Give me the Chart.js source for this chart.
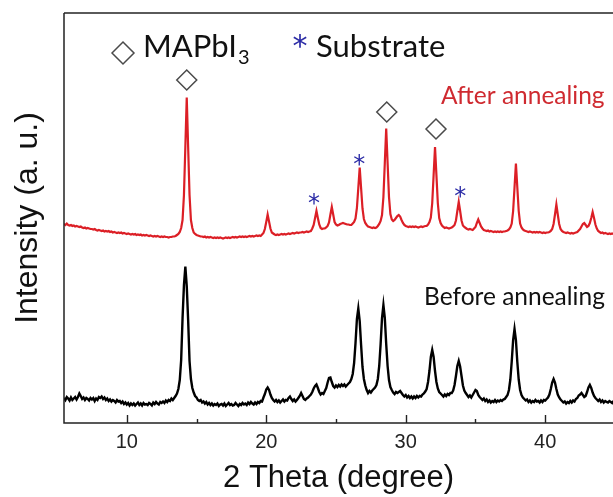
<!DOCTYPE html>
<html>
<head>
<meta charset="utf-8">
<title>XRD - MAPbI3 film</title>
<script src="https://cdn.jsdelivr.net/npm/chart.js"></script>
<style>
  body { margin: 0; background: #fff; }
  canvas { display: block; }
</style>
</head>
<body>
<canvas id="xrdChart" width="613" height="497"></canvas>
<script>
// 2 theta grid, one row per degree
const twoTheta = [
  5.5, 5.6, 5.7, 5.8, 5.9, 6.0, 6.1, 6.2, 6.3, 6.4,
  6.5, 6.6, 6.7, 6.8, 6.9, 7.0, 7.1, 7.2, 7.3, 7.4,
  7.5, 7.6, 7.7, 7.8, 7.9, 8.0, 8.1, 8.2, 8.3, 8.4,
  8.5, 8.6, 8.7, 8.8, 8.9, 9.0, 9.1, 9.2, 9.3, 9.4,
  9.5, 9.6, 9.7, 9.8, 9.9, 10.0, 10.1, 10.2, 10.3, 10.4,
  10.5, 10.6, 10.7, 10.8, 10.9, 11.0, 11.1, 11.2, 11.3, 11.4,
  11.5, 11.6, 11.7, 11.8, 11.9, 12.0, 12.1, 12.2, 12.3, 12.4,
  12.5, 12.6, 12.7, 12.8, 12.9, 13.0, 13.1, 13.2, 13.3, 13.4,
  13.5, 13.6, 13.7, 13.8, 13.9, 14.0, 14.1, 14.2, 14.3, 14.4,
  14.5, 14.6, 14.7, 14.8, 14.9, 15.0, 15.1, 15.2, 15.3, 15.4,
  15.5, 15.6, 15.7, 15.8, 15.9, 16.0, 16.1, 16.2, 16.3, 16.4,
  16.5, 16.6, 16.7, 16.8, 16.9, 17.0, 17.1, 17.2, 17.3, 17.4,
  17.5, 17.6, 17.7, 17.8, 17.9, 18.0, 18.1, 18.2, 18.3, 18.4,
  18.5, 18.6, 18.7, 18.8, 18.9, 19.0, 19.1, 19.2, 19.3, 19.4,
  19.5, 19.6, 19.7, 19.8, 19.9, 20.0, 20.1, 20.2, 20.3, 20.4,
  20.5, 20.6, 20.7, 20.8, 20.9, 21.0, 21.1, 21.2, 21.3, 21.4,
  21.5, 21.6, 21.7, 21.8, 21.9, 22.0, 22.1, 22.2, 22.3, 22.4,
  22.5, 22.6, 22.7, 22.8, 22.9, 23.0, 23.1, 23.2, 23.3, 23.4,
  23.5, 23.6, 23.7, 23.8, 23.9, 24.0, 24.1, 24.2, 24.3, 24.4,
  24.5, 24.6, 24.7, 24.8, 24.9, 25.0, 25.1, 25.2, 25.3, 25.4,
  25.5, 25.6, 25.7, 25.8, 25.9, 26.0, 26.1, 26.2, 26.3, 26.4,
  26.5, 26.6, 26.7, 26.8, 26.9, 27.0, 27.1, 27.2, 27.3, 27.4,
  27.5, 27.6, 27.7, 27.8, 27.9, 28.0, 28.1, 28.2, 28.3, 28.4,
  28.5, 28.6, 28.7, 28.8, 28.9, 29.0, 29.1, 29.2, 29.3, 29.4,
  29.5, 29.6, 29.7, 29.8, 29.9, 30.0, 30.1, 30.2, 30.3, 30.4,
  30.5, 30.6, 30.7, 30.8, 30.9, 31.0, 31.1, 31.2, 31.3, 31.4,
  31.5, 31.6, 31.7, 31.8, 31.9, 32.0, 32.1, 32.2, 32.3, 32.4,
  32.5, 32.6, 32.7, 32.8, 32.9, 33.0, 33.1, 33.2, 33.3, 33.4,
  33.5, 33.6, 33.7, 33.8, 33.9, 34.0, 34.1, 34.2, 34.3, 34.4,
  34.5, 34.6, 34.7, 34.8, 34.9, 35.0, 35.1, 35.2, 35.3, 35.4,
  35.5, 35.6, 35.7, 35.8, 35.9, 36.0, 36.1, 36.2, 36.3, 36.4,
  36.5, 36.6, 36.7, 36.8, 36.9, 37.0, 37.1, 37.2, 37.3, 37.4,
  37.5, 37.6, 37.7, 37.8, 37.9, 38.0, 38.1, 38.2, 38.3, 38.4,
  38.5, 38.6, 38.7, 38.8, 38.9, 39.0, 39.1, 39.2, 39.3, 39.4,
  39.5, 39.6, 39.7, 39.8, 39.9, 40.0, 40.1, 40.2, 40.3, 40.4,
  40.5, 40.6, 40.7, 40.8, 40.9, 41.0, 41.1, 41.2, 41.3, 41.4,
  41.5, 41.6, 41.7, 41.8, 41.9, 42.0, 42.1, 42.2, 42.3, 42.4,
  42.5, 42.6, 42.7, 42.8, 42.9, 43.0, 43.1, 43.2, 43.3, 43.4,
  43.5, 43.6, 43.7, 43.8, 43.9, 44.0, 44.1, 44.2, 44.3, 44.4,
  44.5, 44.6, 44.7, 44.8, 44.9, 45.0, 45.1, 45.2, 45.3, 45.4
];

// annealed film, already offset upwards (a. u.)
const afterAnnealing = [
  199, 198, 199.5, 198, 197.5, 198, 197, 197.5, 196.5, 197,
  196.5, 196, 196.5, 195.5, 195, 195.5, 194.5, 195, 194.5, 194,
  194, 193.5, 194, 193, 192.5, 193, 192.5, 192, 192.5, 191.5,
  192, 191.5, 192, 191, 191.5, 190.5, 191, 190.5, 190, 190.5,
  190, 190.5, 189.5, 190, 189.5, 189, 189.5, 189, 188.5, 189,
  188.5, 189, 188, 188.5, 188, 188.5, 187.5, 188, 187.5, 188,
  187.5, 187, 187.5, 187, 186.5, 187, 186.5, 187, 186.5, 186,
  186.5, 186, 186.5, 186, 186, 185.5, 186, 186, 186.5, 186.5,
  187, 188, 189, 191, 195, 203, 228, 276, 325.5, 276,
  228, 203, 195, 190.5, 189, 188, 187.5, 187, 186.5, 186.5,
  186, 186.5, 185.5, 186, 185.5, 186, 185.5, 185, 185.5, 185,
  185.5, 185, 185.5, 185, 184.5, 185, 185.5, 185, 185.5, 185,
  185.5, 186, 185.5, 186, 185.5, 186, 186.5, 186, 186.5, 186,
  186.5, 186, 186.5, 187, 186.5, 187, 186.5, 187, 187.5, 187,
  187.5, 187, 188.5, 190, 194, 201, 208.5, 201.5, 194.5, 190.5,
  189.5, 188.5, 188, 188.5, 188, 188.5, 189, 188.5, 189, 188.5,
  189, 189.5, 189, 189.5, 190, 189.5, 190, 190.5, 190, 190.5,
  190.5, 191, 190.5, 191, 191.5, 191, 191.5, 192, 194.5, 198,
  205, 212, 205, 198.5, 195, 194, 194.5, 194.5, 195.5, 197,
  200.5, 208.5, 216, 208.5, 201, 198.5, 197.5, 198, 199, 199.5,
  200, 199.5, 199, 198.5, 198.5, 198, 198, 199.5, 201, 204.5,
  215, 235, 255.5, 235, 214.5, 204, 200, 198, 196.5, 196,
  195.5, 195, 195.5, 195, 195.5, 197, 199, 202, 208, 226,
  260, 294.5, 260, 226, 209, 203.5, 202, 203, 205, 207,
  208, 206.5, 203, 200, 198, 197, 196.5, 196, 196.5, 196,
  196.5, 196, 196.5, 196, 195.5, 196, 196.5, 196, 196.5, 197,
  197, 198.5, 201, 205.5, 220, 248, 276, 248, 220, 205,
  200, 197.5, 196, 195, 195.5, 195, 194.5, 195, 195.5, 196.5,
  198, 202.5, 212, 221, 212, 202.5, 197.5, 196, 195, 194,
  193.5, 194, 193.5, 193, 194.5, 196, 200, 203.5, 200, 196.5,
  194.5, 193, 192.5, 192, 192.5, 191.5, 192, 191.5, 191, 191.5,
  191, 191.5, 191, 191.5, 191, 191.5, 191.5, 192, 192.5, 193.5,
  195.5, 199.5, 212, 235.5, 259.5, 235.5, 212, 199.5, 195.5, 193.5,
  192.5, 192, 191.5, 191, 191.5, 191, 190.5, 191, 190.5, 191,
  190.5, 191, 190.5, 190, 190.5, 190, 190.5, 190.5, 191, 192,
  194, 199, 208.5, 218.5, 208.5, 199, 194, 192, 191, 190.5,
  190, 190.5, 190, 189.5, 190, 189.5, 190, 190.5, 191, 192.5,
  194, 196.5, 199, 200, 198, 196, 197, 200, 205, 211,
  205, 198.5, 194.5, 192, 191, 190, 190.5, 189.5, 190, 189.5,
  189, 189.5, 189, 189.5, 189, 188.5, 189, 189.5, 189, 189
];

// as-deposited film (a. u.)
const beforeAnnealing = [
  25, 23, 26, 24.5, 22.5, 25.5, 23, 24.5, 26, 23.5,
  26, 29.5, 27, 24, 25.5, 23, 25, 24, 22.5, 25,
  23.5, 25, 22, 24.5, 23, 26, 25, 26.5, 24, 25.5,
  23, 24.5, 22, 23.5, 21.5, 23, 22, 20.5, 23, 21.5,
  22, 20, 21.5, 19, 20.5, 18.5, 20, 17.5, 19.5, 18,
  19.5, 17.5, 19, 20.5, 18, 19.5, 17.5, 20, 18.5, 19,
  18, 20, 19, 17.5, 20.5, 19, 21, 19.5, 18.5, 21,
  20, 21.5, 20, 22.5, 21, 23, 22, 24.5, 23, 25,
  27, 29.5, 34, 43, 63, 105, 138, 156.5, 137, 103,
  62, 44, 35, 30.5, 27, 25.5, 23, 22, 23, 20.5,
  21.5, 19.5, 21, 18.5, 20, 18, 19.5, 17.5, 19, 18,
  19.5, 17, 18.5, 19, 17.5, 19.5, 17, 18.5, 20, 18,
  19, 17.5, 18, 20, 18.5, 17, 19, 18, 20, 18.5,
  19.5, 18, 20.5, 19, 21, 19.5, 18.5, 20.5, 19, 21,
  20, 22, 21.5, 25.5, 29, 33.5, 35.5, 33, 28.5, 25,
  23, 21.5, 23, 21, 22.5, 20.5, 22, 23.5, 21.5, 23,
  22.5, 25, 26.5, 24, 22, 23.5, 21.5, 23, 25, 27,
  30, 27, 24, 23, 24.5, 25.5, 27, 28.5, 31, 34.5,
  37, 38.5, 35, 31, 28.5, 30, 29, 32, 35, 40.5,
  45, 45.5, 41, 37, 35.5, 37.5, 36, 38, 36.5, 38.5,
  37, 38.5, 36.5, 38, 39.5, 41, 44, 49, 60, 80,
  104, 114.5, 102, 78, 56, 44, 37.5, 33, 30, 32,
  30.5, 32.5, 34, 35.5, 38, 44, 57, 79, 105, 118,
  105, 79, 57, 43, 36, 33, 30.5, 29, 31, 30,
  31, 32, 30, 28, 26.5, 28, 25.5, 27, 25, 26.5,
  24.5, 26.5, 25, 27, 25.5, 27, 26.5, 28.5, 29.5, 31.5,
  34, 41, 52, 66, 73, 66, 52, 41, 34.5, 31,
  29.5, 28, 26.5, 28.5, 27, 29, 28, 30, 30, 32.5,
  38, 47, 57, 62, 56.5, 47, 37.5, 32.5, 30, 28,
  26, 27.5, 25.5, 28, 30.5, 33, 32, 28, 26, 24.5,
  23, 24.5, 22, 23.5, 21, 22.5, 20.5, 22, 21, 23,
  21, 22.5, 21.5, 23, 22, 23.5, 24, 26, 28, 33,
  43.5, 61.5, 83, 94, 83, 61, 43.5, 33, 28, 25.5,
  24, 22.5, 23.5, 21, 22.5, 20.5, 22, 21, 23, 21.5,
  22, 20.5, 22.5, 21, 23, 22.5, 24, 25.5, 28.5, 34,
  40.5, 44, 40.5, 34, 28.5, 25.5, 23.5, 22, 20.5, 21.5,
  19.5, 21, 20, 22, 20.5, 22.5, 21.5, 24, 25, 27.5,
  28.5, 30, 28, 26, 27, 31, 35.5, 38, 35, 30.5,
  27, 25, 23.5, 22, 23.5, 21, 22.5, 20.5, 22, 21,
  20.5, 22, 21, 20, 22, 21.5, 20.5, 22, 21, 21.5
];

// phase markers: MAPbI3 reflections (diamonds) and substrate reflections (asterisks)
const perovskiteTheta = [14.3, 28.64, 32.17];
const perovskiteMark = [343, 311, 294];
const substrateTheta = [23.43, 26.67, 33.91];
const substrateMark = [226, 265, 233];

const xLabelValues = [10, 20, 30, 40];

const RED = '#dc1f26';
const BLUE = '#2b2ba6';
const AXIS_FONT = '"Liberation Sans", Arial, sans-serif';

// frame on three sides plus inward tick marks on the 2 theta axis
const framePlugin = {
  id: 'frame',
  afterDraw(chart) {
    const {ctx, chartArea: a, scales: {x}} = chart;
    ctx.save();
    ctx.strokeStyle = '#5a5a5a';
    ctx.lineWidth = 2;
    ctx.beginPath();
    ctx.moveTo(a.left, a.top);
    ctx.lineTo(a.right, a.top);
    ctx.stroke();
    ctx.strokeStyle = '#222';
    ctx.lineWidth = 1.5;
    ctx.beginPath();
    ctx.moveTo(a.left, a.top);
    ctx.lineTo(a.left, a.bottom);
    ctx.lineTo(a.right, a.bottom);
    ctx.stroke();
    ctx.lineWidth = 1.4;
    x.ticks.forEach(t => {
      if (t.value % 5 !== 0) return;
      const px = Math.round(x.getPixelForValue(t.value)) + 0.5;
      const len = xLabelValues.includes(t.value) ? 8 : 4;
      ctx.beginPath();
      ctx.moveTo(px, a.bottom);
      ctx.lineTo(px, a.bottom - len);
      ctx.stroke();
    });
    ctx.restore();
  }
};

// key, curve names and substrate asterisks
const notesPlugin = {
  id: 'notes',
  afterDraw(chart) {
    const {ctx, scales: {x, y}} = chart;
    ctx.save();
    ctx.textAlign = 'center';
    ctx.textBaseline = 'alphabetic';
    ctx.fillStyle = BLUE;
    ctx.font = '24px "DejaVu Sans"';
    substrateTheta.forEach((t, i) => {
      ctx.fillText('*', x.getPixelForValue(t), y.getPixelForValue(substrateMark[i]) + 14);
    });

    // key
    ctx.strokeStyle = '#4a4a4a';
    ctx.fillStyle = 'rgba(0,0,0,0)';
    ctx.lineWidth = 1.5;
    Chart.helpers.drawPoint(ctx, {pointStyle: 'rectRot', radius: 11, borderWidth: 1.5}, 123, 53);

    ctx.textAlign = 'left';
    ctx.fillStyle = '#111';
    ctx.font = '31px Lato';
    ctx.fillText('MAPbI', 143, 57);
    const w = ctx.measureText('MAPbI').width;
    ctx.font = '20px Lato';
    ctx.fillText('3', 143 + w + 1, 64);

    ctx.fillStyle = BLUE;
    ctx.font = '30px "DejaVu Sans"';
    ctx.textAlign = 'center';
    ctx.fillText('*', 300, 56);
    ctx.textAlign = 'left';
    ctx.fillStyle = '#111';
    ctx.font = '31px Lato';
    ctx.fillText('Substrate', 316, 57);

    ctx.font = '24.5px Lato';
    ctx.fillStyle = '#cf2a30';
    ctx.fillText('After annealing', 441, 103.5);
    ctx.fillStyle = '#111';
    ctx.fillText('Before annealing', 424, 305);
    ctx.restore();
  }
};

const toPoints = ys => twoTheta.map((t, i) => ({x: t, y: ys[i]}));

new Chart(document.getElementById('xrdChart'), {
  type: 'line',
  data: {
    datasets: [
      {
        label: 'MAPbI3',
        type: 'scatter',
        data: perovskiteTheta.map((t, i) => ({x: t, y: perovskiteMark[i]})),
        pointStyle: 'rectRot',
        pointRadius: 10,
        borderColor: '#4a4a4a',
        borderWidth: 1.5,
        backgroundColor: 'rgba(0,0,0,0)',
        showLine: false
      },
      {
        label: 'After annealing',
        data: toPoints(afterAnnealing),
        borderColor: RED,
        borderWidth: 2.2,
        pointRadius: 0,
        tension: 0
      },
      {
        label: 'Before annealing',
        data: toPoints(beforeAnnealing),
        borderColor: '#000',
        borderWidth: 2.4,
        pointRadius: 0,
        tension: 0
      }
    ]
  },
  options: {
    responsive: false,
    animation: false,
    events: [],
    layout: {autoPadding: false, padding: {top: 13, right: 0, left: 0, bottom: 0}},
    plugins: {
      legend: {display: false},
      tooltip: {enabled: false}
    },
    scales: {
      x: {
        type: 'linear',
        min: 5.5,
        max: 44.86,
        grid: {display: false, drawTicks: false},
        border: {display: false},
        ticks: {
          stepSize: 5,
          includeBounds: false,
          autoSkip: false,
          maxRotation: 0,
          padding: 7,
          color: '#222',
          font: {family: AXIS_FONT, size: 20},
          callback: v => xLabelValues.includes(v) ? String(v) : ''
        },
        title: {
          display: true,
          text: '2 Theta (degree)',
          color: '#111',
          font: {family: AXIS_FONT, size: 31},
          padding: {top: 0, bottom: 0}
        },
        afterFit(scale) {
          scale.height = 74;
          scale.paddingLeft = 0;
          scale.paddingRight = 0;
        }
      },
      y: {
        min: 0,
        max: 410,
        grid: {display: false, drawTicks: false},
        border: {display: false},
        ticks: {display: false},
        title: {
          display: true,
          text: 'Intensity (a. u.)',
          color: '#111',
          font: {family: AXIS_FONT, size: 32},
          padding: {top: 9, bottom: 0}
        },
        afterFit(scale) {
          scale.width = 64;
          scale.paddingTop = 0;
          scale.paddingBottom = 0;
        }
      }
    }
  },
  plugins: [framePlugin, notesPlugin]
});
</script>
</body>
</html>
